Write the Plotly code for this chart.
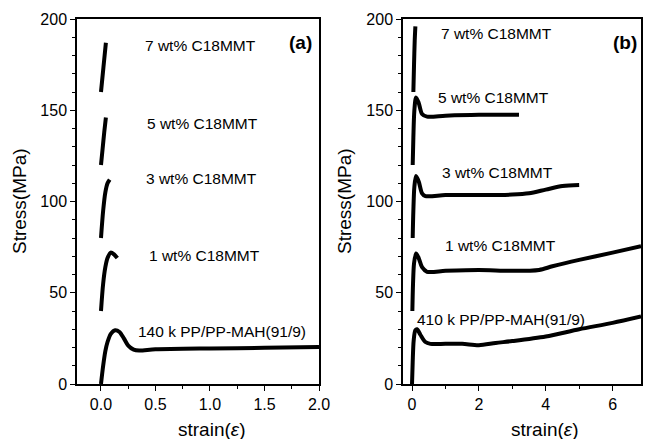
import plotly.graph_objects as go

# ---------- data ----------
# Panel (a): 140k PP/PP-MAH nanocomposites (curves offset vertically)
a7_x = [0.0, 0.015, 0.03, 0.045]
a7_y = [160, 169, 178, 187]
a5_x = [0.0, 0.015, 0.03, 0.045]
a5_y = [120, 129, 138, 146]
a3_x = [0.0, 0.02, 0.04, 0.06, 0.08]
a3_y = [80, 95, 105, 110, 112]
a1_x = [0.0, 0.02, 0.04, 0.06, 0.09, 0.12, 0.15]
a1_y = [40, 55, 64, 69, 72, 71, 69]
a0_x = [0.0, 0.02, 0.04, 0.06, 0.09, 0.13, 0.17, 0.21, 0.25, 0.30, 0.35, 0.5, 1.0, 1.5, 2.0]
a0_y = [0, 10, 18, 23, 27.5, 29.5, 28.5, 25, 21, 18.8, 18.3, 19, 19.5, 19.8, 20.3]

# Panel (b): 410k PP/PP-MAH nanocomposites
b7_x = [0.04, 0.06, 0.08, 0.10]
b7_y = [160, 175, 188, 196]
b5_x = [0.02, 0.04, 0.07, 0.12, 0.2, 0.3, 0.45, 1.0, 2.0, 3.2]
b5_y = [120, 135, 150, 157, 154, 148, 146.5, 147, 147.5, 147.5]
b3_x = [0.02, 0.04, 0.07, 0.12, 0.2, 0.3, 0.4, 1.0, 2.0, 3.0, 3.5, 4.0, 4.5, 5.0]
b3_y = [80, 95, 108, 114, 111, 104.5, 103, 103.5, 103.5, 103.8, 104.5, 106.5, 108.5, 109]
b1_x = [0.01, 0.03, 0.06, 0.12, 0.2, 0.3, 0.45, 1.0, 2.0, 3.0, 3.8, 4.2, 5.0, 6.0, 6.85]
b1_y = [40, 55, 66, 71.5, 69, 64, 61.5, 62, 62.5, 62, 62.5, 64.5, 68, 72, 75.5]
b0_x = [0.0, 0.02, 0.05, 0.1, 0.15, 0.25, 0.4, 0.55, 1.0, 1.5, 2.0, 2.5, 3.0, 4.0, 5.0, 6.0, 6.85]
b0_y = [0, 12, 24, 29.5, 30, 27, 23, 22, 22, 22, 21.3, 22.5, 23.5, 26, 30, 33.5, 37]

a_labels = ["7 wt% C18MMT", "5 wt% C18MMT", "3 wt% C18MMT", "1 wt% C18MMT", "140 k PP/PP-MAH(91/9)"]
b_labels = ["7 wt% C18MMT", "5 wt% C18MMT", "3 wt% C18MMT", "1 wt% C18MMT", "410 k PP/PP-MAH(91/9)"]
y_ticks = [0, 50, 100, 150, 200]
a_xticks = [0.0, 0.5, 1.0, 1.5, 2.0]
a_xticktext = ["0.0", "0.5", "1.0", "1.5", "2.0"]
b_xticks = [0, 2, 4, 6]

# ---------- figure ----------
W, H = 646, 439
FONT = "Arial, Liberation Sans, sans-serif"
fig = go.Figure()

def add_curve(x, y, xa, ya):
    fig.add_trace(go.Scatter(x=x, y=y, mode="lines", xaxis=xa, yaxis=ya,
                             line=dict(color="black", width=4, shape="spline", smoothing=0.8),
                             showlegend=False, hoverinfo="skip"))

for xs, ys in [(a7_x, a7_y), (a5_x, a5_y), (a3_x, a3_y), (a1_x, a1_y), (a0_x, a0_y)]:
    add_curve(xs, ys, "x", "y")
for xs, ys in [(b7_x, b7_y), (b5_x, b5_y), (b3_x, b3_y), (b1_x, b1_y), (b0_x, b0_y)]:
    add_curve(xs, ys, "x2", "y2")

def px_x(p):
    return p / W

def px_y(p):
    return 1 - p / H

top, bot = 19, 384
axis_common = dict(showline=True, linecolor="black", linewidth=1.5, mirror=True,
                   ticks="outside", ticklen=5, tickwidth=1.2, tickcolor="black",
                   showgrid=False, zeroline=False, automargin=False,
                   tickfont=dict(family=FONT, size=16, color="black"))

fig.update_layout(
    width=W, height=H, margin=dict(l=0, r=0, t=0, b=0, pad=0), autosize=False,
    paper_bgcolor="white", plot_bgcolor="white",
    xaxis=dict(domain=[px_x(77), px_x(319)], range=[-0.22, 2.0], anchor="y",
               tickvals=a_xticks, ticktext=a_xticktext,
               minor=dict(dtick=0.25, tick0=0, ticks="outside", ticklen=3, tickcolor="black"),
               **axis_common),
    yaxis=dict(domain=[px_y(bot), px_y(top)], range=[0, 200], anchor="x",
               tickvals=y_ticks,
               minor=dict(dtick=10, tick0=0, ticks="outside", ticklen=3, tickcolor="black"),
               **axis_common),
    xaxis2=dict(domain=[px_x(403), px_x(641)], range=[-0.27, 6.85], anchor="y2",
                tickvals=b_xticks,
                minor=dict(dtick=1, tick0=0, ticks="outside", ticklen=3, tickcolor="black"),
                **axis_common),
    yaxis2=dict(domain=[px_y(bot), px_y(top)], range=[0, 200], anchor="x2",
                tickvals=y_ticks,
                minor=dict(dtick=10, tick0=0, ticks="outside", ticklen=3, tickcolor="black"),
                **axis_common),
)

def add_text(xp, yp, txt, font, angle=0):
    fig.add_annotation(x=px_x(xp), y=px_y(yp), xref="paper", yref="paper", text=txt,
                       showarrow=False, font=font, xanchor="center", yanchor="middle",
                       textangle=angle)

ann_font = dict(family=FONT, size=15.5, color="black")
a_pos = [(200, 45), (202, 124), (201, 178), (204, 255), (222, 331)]
b_pos = [(496, 33), (493, 97), (497, 172), (500, 245), (501, 319)]
for txt, (xp, yp) in zip(a_labels, a_pos):
    add_text(xp, yp, txt, ann_font)
for txt, (xp, yp) in zip(b_labels, b_pos):
    add_text(xp, yp, txt, ann_font)

panel_font = dict(family=FONT, size=19, color="black")
add_text(300, 42, "<b>(a)</b>", panel_font)
add_text(625, 42, "<b>(b)</b>", panel_font)

title_font = dict(family=FONT, size=19, color="black")
for xp in (19, 344):
    add_text(xp, 201, "Stress(MPa)", title_font, angle=-90)
for xp in (211, 544):
    add_text(xp, 429, "strain(<i>ε</i>)", title_font)

fig.write_html("out.html", config={"displayModeBar": False},
               post_script="document.body.style.margin='0';document.body.style.overflow='hidden';")
